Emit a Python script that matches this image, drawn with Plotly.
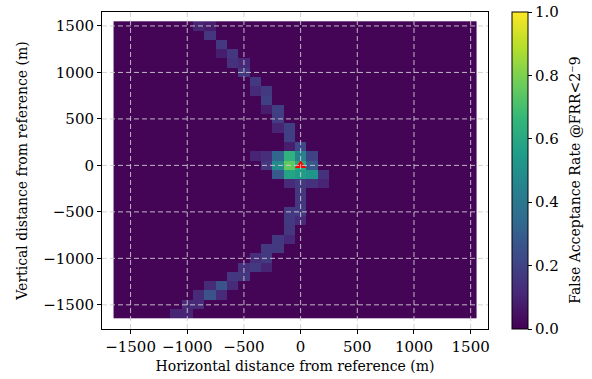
import numpy as np
import plotly.graph_objects as go

# grid cell centres (m)
x_centers = list(range(-1600, 1600, 100))
y_centers = list(range(-1600, 1600, 100))
background = 0.01

# non-background cells: (x, y, value)
hot_x = [
    -900, -800, -800, -700, -700, -600, -600, -500, -500, -400, -400, -300, -300, -300, -200, -200, -200,
    -100, -100, 0, -100,
    -400, -300, -200, -100, 0, 100,
    -300, -200, -100, 0, 100,
    -200, -100, 0, 100, 200,
    -100, 0, 100, 200,
    0, 0, -100, 0, -100, 0, -100,
    -200, -200, -100, -300, -300, -400, -400, -300, -500, -500, -600, -600, -500,
    -700, -800, -800, -700, -900, -900, -1000, -1000, -1100,
]
hot_y = [
    1500, 1500, 1400, 1300, 1200, 1200, 1100, 1100, 1000, 900, 800, 800, 700, 600, 600, 500, 400,
    400, 300, 200, 200,
    100, 100, 100, 100, 100, 100,
    0, 0, 0, 0, 0,
    -100, -100, -100, -100, -100,
    -200, -200, -200, -200,
    -300, -400, -500, -500, -600, -600, -700,
    -800, -900, -800, -900, -1000, -1000, -1100, -1100, -1100, -1200, -1200, -1300, -1200,
    -1300, -1300, -1400, -1400, -1400, -1500, -1500, -1600, -1600,
]
hot_v = [
    0.10, 0.08, 0.16, 0.17, 0.08, 0.16, 0.14, 0.11, 0.16, 0.17, 0.12, 0.17, 0.19, 0.08, 0.19, 0.18, 0.10,
    0.19, 0.19, 0.22, 0.08,
    0.10, 0.13, 0.33, 0.64, 0.45, 0.20,
    0.16, 0.48, 0.75, 0.60, 0.28,
    0.28, 0.58, 0.55, 0.52, 0.14,
    0.12, 0.17, 0.14, 0.10,
    0.16, 0.16, 0.17, 0.17, 0.17, 0.12, 0.16,
    0.17, 0.17, 0.11, 0.17, 0.17, 0.13, 0.17, 0.10, 0.14, 0.16, 0.16, 0.12, 0.16,
    0.26, 0.12, 0.26, 0.12, 0.12, 0.12, 0.12, 0.10, 0.10,
]

tick_vals = [-1500, -1000, -500, 0, 500, 1000, 1500]
tick_text = ["\u22121500", "\u22121000", "\u2212500", "0", "500", "1000", "1500"]
cbar_vals = [0.0, 0.2, 0.4, 0.6, 0.8, 1.0]
cbar_text = ["0.0", "0.2", "0.4", "0.6", "0.8", "1.0"]
cbar_title = "False Acceptance Rate @FRR<2\u207b9"

z = np.full((len(y_centers), len(x_centers)), background)
for xv, yv, v in zip(hot_x, hot_y, hot_v):
    z[y_centers.index(yv), x_centers.index(xv)] = v

FONT = "DejaVu Serif"
GRID = dict(color="rgba(205,205,205,0.9)", width=1, dash="5px,3px")

fig = go.Figure()
fig.add_trace(go.Heatmap(
    x=x_centers, y=y_centers, z=z,
    colorscale="Viridis", zmin=0, zmax=1,
    colorbar=dict(
        x=1.062, xanchor="left", xpad=0, y=0.5, yanchor="middle", ypad=0,
        len=1.0, lenmode="fraction",
        thickness=16, outlinewidth=1, outlinecolor="black",
        tickvals=cbar_vals, ticktext=cbar_text, ticks="outside", ticklen=4,
        tickcolor="black", tickfont=dict(family=FONT, size=15, color="black"),
    ),
    showscale=True,
))
fig.add_trace(go.Scatter(
    x=[0], y=[0], mode="markers",
    marker=dict(symbol="triangle-up", size=10, color="red"),
    showlegend=False, hoverinfo="skip",
))

shapes = []
for t in tick_vals:
    shapes.append(dict(type="line", xref="x", yref="paper", x0=t, x1=t, y0=0, y1=1,
                       line=GRID, layer="above"))
    shapes.append(dict(type="line", xref="paper", yref="y", x0=0, x1=1, y0=t, y1=t,
                       line=GRID, layer="above"))

axis_common = dict(
    showline=True, mirror=True, linecolor="black", linewidth=1,
    ticks="outside", ticklen=4, tickcolor="black",
    tickvals=tick_vals, ticktext=tick_text,
    tickfont=dict(family=FONT, size=15, color="black"),
    showgrid=False, zeroline=False,
)

fig.update_layout(
    width=592, height=379,
    margin=dict(l=102, r=104, t=12, b=50, autoexpand=False),
    paper_bgcolor="white", plot_bgcolor="white",
    showlegend=False,
    shapes=shapes,
    annotations=[dict(
        text=cbar_title, textangle=-90, xref="paper", yref="paper",
        x=1.225, y=0.47, xanchor="center", yanchor="middle", showarrow=False,
        font=dict(family=FONT, size=14, color="black"),
    )],
    xaxis=dict(range=[-1752, 1653],
               title=dict(text="Horizontal distance from reference (m)", standoff=6,
                          font=dict(family=FONT, size=14, color="black")),
               **axis_common),
    yaxis=dict(range=[-1760, 1650],
               title=dict(text="Vertical distance from reference (m)", standoff=12,
                          font=dict(family=FONT, size=14, color="black")),
               **axis_common),
)

fig.write_html("out.html")
